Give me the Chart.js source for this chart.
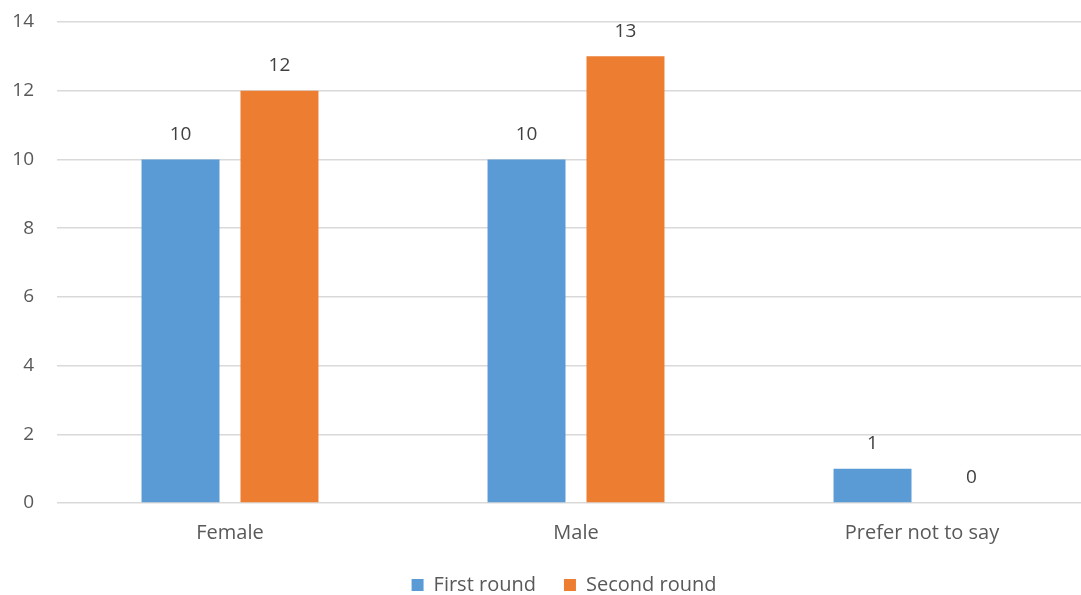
<!DOCTYPE html>
<html>
<head>
<meta charset="utf-8">
<script src="https://cdn.jsdelivr.net/npm/chart.js@4.4.1/dist/chart.umd.min.js"></script>
<style>
  html, body { margin: 0; padding: 0; background: #ffffff; overflow: hidden; }
  canvas { display: block; }
</style>
</head>
<body>
<canvas id="chart" width="1095" height="605"></canvas>
<script>
// Respondents by gender, for each survey round
const categories = ['Female', 'Male', 'Prefer not to say'];
const firstRound = [10, 10, 1];
const secondRound = [12, 13, 0];
const seriesNames = ['First round', 'Second round'];
const yTicks = [0, 2, 4, 6, 8, 10, 12, 14];

const FONT = "'Open Sans', 'DejaVu Sans', sans-serif";
const TEXT = '#595959';

// Writes each bar's value just above it
const valueLabels = {
  id: 'valueLabels',
  afterDatasetsDraw(chart) {
    const ctx = chart.ctx;
    ctx.save();
    ctx.font = '19px ' + FONT;
    ctx.fillStyle = '#404040';
    ctx.textAlign = 'center';
    ctx.textBaseline = 'middle';
    chart.data.datasets.forEach((ds, i) => {
      const meta = chart.getDatasetMeta(i);
      meta.data.forEach((bar, j) => {
        ctx.fillText(String(ds.data[j]), bar.x, bar.y - 25);
      });
    });
    ctx.restore();
  }
};

// Nudges the legend row a little to the left of the plot's centre
const legendNudge = {
  id: 'legendNudge',
  afterLayout(chart) {
    chart.legend.left -= 12;
    chart.legend.right -= 12;
  }
};

new Chart(document.getElementById('chart'), {
  type: 'bar',
  data: {
    labels: categories,
    datasets: [
      { label: seriesNames[0], data: firstRound, backgroundColor: '#5B9BD5' },
      { label: seriesNames[1], data: secondRound, backgroundColor: '#ED7D31' }
    ]
  },
  options: {
    responsive: false,
    animation: false,
    devicePixelRatio: 1,
    datasets: { bar: { categoryPercentage: 0.572, barPercentage: 0.788 } },
    layout: { padding: { left: 0, top: 22, right: 0, bottom: 0 } },
    plugins: {
      tooltip: { enabled: false },
      legend: {
        position: 'bottom',
        fullSize: false,
        labels: {
          font: { family: FONT, size: 20 },
          color: TEXT,
          boxWidth: 12,
          boxHeight: 12,
          padding: 28
        }
      }
    },
    scales: {
      x: {
        grid: { display: false, drawTicks: false },
        border: { display: false },
        ticks: { font: { family: FONT, size: 20 }, color: TEXT, padding: 18 },
        afterFit(scale) { scale.height = 44; }
      },
      y: {
        min: yTicks[0],
        max: yTicks[yTicks.length - 1],
        grid: {
          color: '#D9D9D9',
          lineWidth: 1.5,
          drawTicks: true,
          tickLength: 23,
          tickColor: 'rgba(0,0,0,0)'
        },
        border: { display: false },
        afterBuildTicks(scale) { scale.ticks = yTicks.map(v => ({ value: v })); },
        ticks: { font: { family: FONT, size: 19 }, color: TEXT, padding: 0 },
        afterFit(scale) { scale.width = 57; }
      }
    }
  },
  plugins: [valueLabels, legendNudge]
});
</script>
</body>
</html>
